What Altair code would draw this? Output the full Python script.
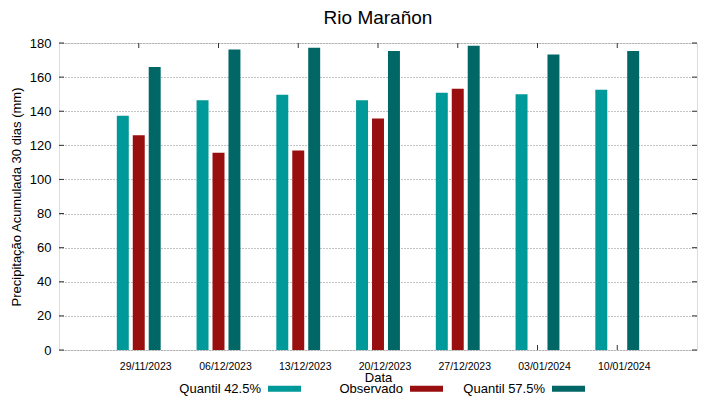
import altair as alt
import pandas as pd

# ---- data ----
dates = ["29/11/2023", "06/12/2023", "13/12/2023", "20/12/2023",
         "27/12/2023", "03/01/2024", "10/01/2024"]
series = ["Quantil 42.5%", "Observado", "Quantil 57.5%"]
q425 = [137.4, 146.4, 149.7, 146.5, 150.8, 149.9, 152.6]
observado = [125.9, 115.6, 116.9, 135.8, 153.2, None, None]
q575 = [165.9, 176.2, 177.2, 175.3, 178.4, 173.3, 175.3]
colors = ["#009999", "#990e0e", "#006666"]
y_ticks = [0, 20, 40, 60, 80, 100, 120, 140, 160, 180]

rows = []
for i, d in enumerate(dates):
    for s, vals in zip(series, [q425, observado, q575]):
        if vals[i] is not None:
            rows.append({"date": d, "serie": s, "valor": vals[i]})
df = pd.DataFrame(rows)
df_dates = pd.DataFrame({"date": dates})
df_y = pd.DataFrame({"valor": y_ticks})

FONT = "Liberation Sans"
W, H = 638, 307

xscale = alt.Scale(domain=dates, paddingInner=0.25, paddingOuter=0.625)
yscale = alt.Scale(domain=[0, 180], nice=False)

xaxis = alt.Axis(title="Data", labelAngle=0, ticks=False, domain=False,
                 labelFontSize=10.5, labelPadding=11, labelOffset=7, titleFontSize=13,
                 titleFontWeight="normal", titlePadding=0,
                 labelColor="#000", titleColor="#000", labelFont=FONT, titleFont=FONT)
yaxis = alt.Axis(title="Precipitação Acumulada 30 dias (mm)", values=y_ticks,
                 ticks=False, domain=False, labelFontSize=13, labelPadding=8,
                 titleFontSize=13, titleFontWeight="normal", titlePadding=6,
                 grid=True, gridDash=[1, 2], gridColor="#888888", gridWidth=1,
                 labelColor="#000", titleColor="#000", labelFont=FONT, titleFont=FONT)

bars = alt.Chart(df).mark_bar(strokeWidth=0).encode(
    x=alt.X("date:N", scale=xscale, axis=xaxis, title="Data"),
    xOffset=alt.XOffset("serie:N",
                        scale=alt.Scale(domain=series, paddingInner=0.25, paddingOuter=0.5)),
    y=alt.Y("valor:Q", scale=yscale, axis=yaxis,
            title="Precipitação Acumulada 30 dias (mm)"),
    color=alt.Color("serie:N", scale=alt.Scale(domain=series, range=colors),
                    legend=alt.Legend(title=None, orient="none", legendX=209, legendY=329,
                                      direction="horizontal",
                                      symbolType="M-1,-0.18H1V0.18H-1Z", symbolSize=1089,
                                      symbolStrokeWidth=0, symbolOpacity=1,
                                      labelAlign="right", labelOffset={"expr": "-40"},
                                      labelFontSize=13, labelFont=FONT, labelColor="#000",
                                      labelLimit=0, columnPadding=20, gridAlign="all",
                                      padding=0)),
)

tick_x_bottom = alt.Chart(df_dates).mark_rule(color="#333", strokeWidth=1).encode(
    x=alt.X("date:N", scale=xscale, axis=xaxis, title="Data"),
    y=alt.value(H), y2=alt.value(H - 5))
tick_x_top = alt.Chart(df_dates).mark_rule(color="#333", strokeWidth=1).encode(
    x=alt.X("date:N", scale=xscale, axis=xaxis, title="Data"),
    y=alt.value(0), y2=alt.value(5))
tick_y_left = alt.Chart(df_y).mark_rule(color="#333", strokeWidth=1).encode(
    y=alt.Y("valor:Q", scale=yscale, axis=yaxis,
            title="Precipitação Acumulada 30 dias (mm)"),
    x=alt.value(0), x2=alt.value(5))
tick_y_right = alt.Chart(df_y).mark_rule(color="#333", strokeWidth=1).encode(
    y=alt.Y("valor:Q", scale=yscale, axis=yaxis,
            title="Precipitação Acumulada 30 dias (mm)"),
    x=alt.value(W - 5), x2=alt.value(W))

chart = alt.layer(tick_x_bottom, tick_x_top, tick_y_left, tick_y_right, bars).properties(
    width=W, height=H,
    title=alt.TitleParams("Rio Marañon", fontSize=19, font=FONT, fontWeight="normal",
                          color="#000", anchor="middle", offset=9),
    autosize=alt.AutoSizeParams(type="none"),
    padding={"left": 51, "top": 35, "right": 14, "bottom": 48},
).configure_view(stroke="#333", strokeWidth=1).configure(font=FONT)

chart.save("out.html", embed_options={"renderer": "svg", "actions": False})
